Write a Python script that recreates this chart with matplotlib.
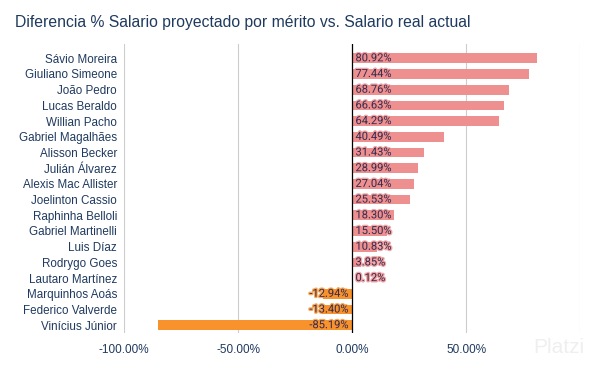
import matplotlib.pyplot as plt
import matplotlib.patheffects as pe

plt.rcParams['font.family'] = ['Liberation Sans', 'DejaVu Sans']

players = ["Sávio Moreira", "Giuliano Simeone", "João Pedro", "Lucas Beraldo",
           "Willian Pacho", "Gabriel Magalhães", "Alisson Becker", "Julián Álvarez",
           "Alexis Mac Allister", "Joelinton Cassio", "Raphinha Belloli",
           "Gabriel Martinelli", "Luis Díaz", "Rodrygo Goes", "Lautaro Martínez",
           "Marquinhos Aoás", "Federico Valverde", "Vinícius Júnior"]
diffs = [80.92, 77.44, 68.76, 66.63, 64.29, 40.49, 31.43, 28.99, 27.04, 25.53,
         18.30, 15.50, 10.83, 3.85, 0.12, -12.94, -13.40, -85.19]
ticks = [-100, -50, 0, 50]

navy = "#1f3a5f"
pink = "#ef9090"
orange = "#f7922c"

fig = plt.figure(figsize=(5.95, 3.68), dpi=100)
ax = fig.add_axes([0.2084, 0.095, 0.7666, 0.785])

ypos = list(range(len(players)))
colors = [pink if v >= 0 else orange for v in diffs]
ax.barh(ypos, diffs, height=0.62, color=colors, zorder=3)

for y, v in zip(ypos, diffs):
    glow = pink if v >= 0 else orange
    if v >= 0:
        t = ax.text(1.5, y, f"{v:.2f}%", ha="left", va="center", fontsize=8,
                    color="#3b2d4f", family="Roboto", zorder=4)
    else:
        t = ax.text(-1.5, y, f"{v:.2f}%", ha="right", va="center", fontsize=8,
                    color="#3b2d4f", family="Roboto", zorder=4)
    t.set_path_effects([pe.withStroke(linewidth=2, foreground=glow, alpha=0.8)])

ax.set_xlim(-100, 100)
ax.set_ylim(len(players) - 0.5, -0.9)
ax.set_yticks(ypos)
ax.set_yticklabels(players, fontsize=8.4, color=navy)
ax.set_xticks(ticks)
ax.set_xticklabels([f"{t:.2f}%" for t in ticks], fontsize=8.5, color=navy)
ax.tick_params(axis="y", length=0, pad=5)
ax.tick_params(axis="x", length=0, pad=8)
for x in [-100, -50, 50, 100]:
    ax.axvline(x, color="#cccccc", linewidth=0.8, zorder=1)
ax.axvline(0, color="black", linewidth=0.9, zorder=5)
for s in ax.spines.values():
    s.set_visible(False)

fig.text(0.025, 0.94, "Diferencia % Salario proyectado por mérito vs. Salario real actual",
         fontsize=11.3, color=navy, va="center")
fig.text(0.94, 0.055, "Platzi", fontsize=15, color="#efefef", ha="center", va="center")

fig.savefig("out.png", dpi=100)
